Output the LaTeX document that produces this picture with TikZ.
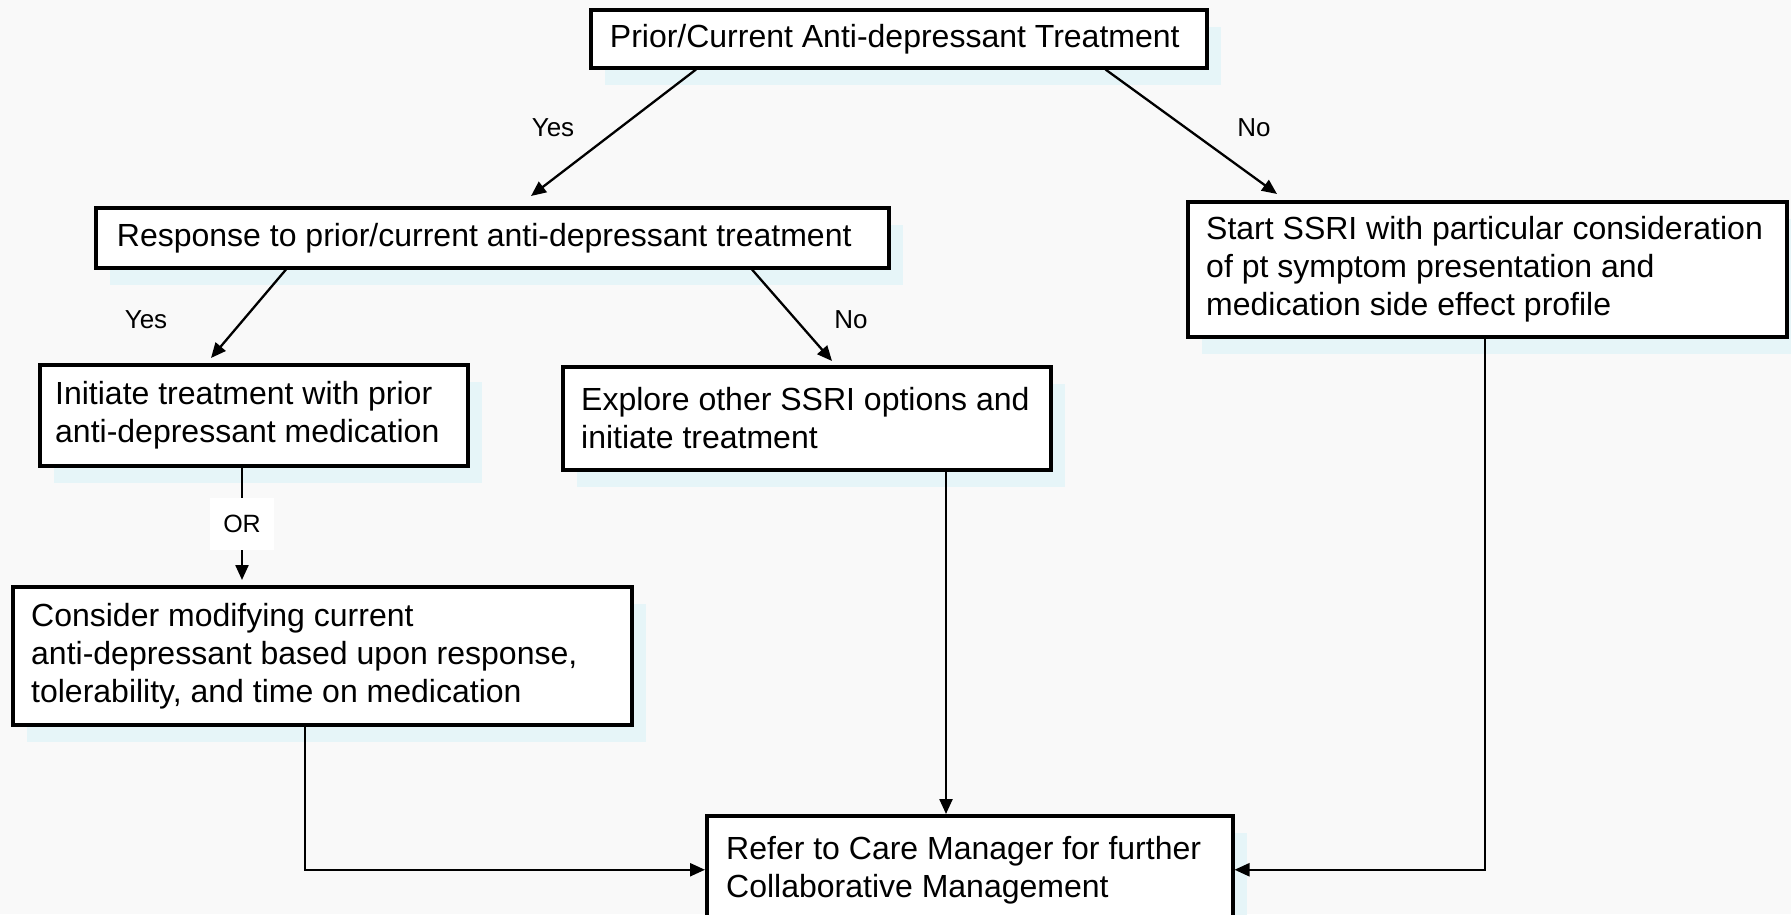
\documentclass[tikz,border=0pt]{standalone}
\usepackage{fontspec}
\setmainfont{Liberation Sans}
\usetikzlibrary{arrows.meta}
\definecolor{shadowc}{RGB}{230,245,248}
\definecolor{bgc}{RGB}{249,249,249}
\newcommand\mkbox[5]{%
  \fill[shadowc] (#2+16,#3+19) rectangle ++(#4,#5);
  \node[box, minimum width=#4pt, minimum height=#5pt] (#1) at (#2,#3) {};
}
\begin{document}
\begin{tikzpicture}[x=1pt,y=-1pt,
  box/.style={draw=black, line width=3.5pt, fill=white, rectangle, inner sep=0pt, anchor=north west},
  txt/.style={anchor=west, align=left, inner sep=0pt, font=\fontsize{32}{38}\selectfont},
  ctxt/.style={align=center, inner sep=0pt, font=\fontsize{32}{38}\selectfont},
  lbl/.style={font=\fontsize{26}{30}\selectfont, inner sep=2pt},
  orlbl/.style={font=\fontsize{25}{30}\selectfont, fill=white, minimum width=64pt, minimum height=52pt},
  conn/.style={line width=2.3pt},
  arr/.style={conn, -{Triangle[length=15pt,width=13pt]}},
]
\path[use as bounding box, clip] (0,0) rectangle (1791,914);
\fill[bgc] (0,0) rectangle (1791,914);

% boxes
\mkbox{top}{589}{8}{616}{58}
\mkbox{resp}{94}{206}{793}{60}
\mkbox{start}{1186}{200}{599}{135}
\mkbox{init}{38}{363}{428}{101}
\mkbox{expl}{561}{365}{488}{103}
\mkbox{cons}{11}{585}{619}{138}
\mkbox{refer}{705}{814}{526}{108}

% texts
\node[ctxt, xshift=-4pt] (topt) at (top.center) {Prior/Current Anti-depressant Treatment};
\node[ctxt, xshift=-8pt] (respt) at (resp.center) {Response to prior/current anti-depressant treatment};
\node[txt, xshift=20pt] (startt) at (start.west) {Start SSRI with particular consideration\\of pt symptom presentation and\\medication side effect profile};
\node[txt, xshift=17pt] (initt) at (init.west) {Initiate treatment with prior\\anti-depressant medication};
\node[txt, xshift=20pt] (explt) at (expl.west) {Explore other SSRI options and\\initiate treatment};
\node[txt, xshift=20pt] (const) at (cons.west) {Consider modifying current\\anti-depressant based upon response,\\tolerability, and time on medication};
\node[txt, xshift=21pt] (refert) at (refer.west) {Refer to Care Manager for further\\Collaborative Management};

% connector ends
\coordinate (y1e) at (531,196);
\coordinate (n1e) at (1277,194);
\coordinate (y2e) at (211,358);
\coordinate (n2e) at (832,361);
\coordinate (ore) at (242,580);
\coordinate (y1s) at ([xshift=107pt]top.south west);
\coordinate (n1s) at ([xshift=-103pt]top.south east);
\coordinate (y2s) at ([xshift=192pt]resp.south west);
\coordinate (n2s) at ([xshift=658pt]resp.south west);
\coordinate (ors) at ([xshift=204pt]init.south west);
\coordinate (cs) at ([xshift=294pt]cons.south west);
\coordinate (es) at ([xshift=385pt]expl.south west);
\coordinate (ss) at ([xshift=299pt]start.south west);

% connectors
\draw[arr] (y1s) -- (y1e);
\draw[arr] (n1s) -- (n1e);
\draw[arr] (y2s) -- (y2e);
\draw[arr] (n2s) -- (n2e);
\draw[arr] (ors) -- node[orlbl] (or) {OR} (ore);
\draw[arr] (cs) |- (refer.west);
\draw[arr] (es) -- (es |- refer.north);
\draw[arr] (ss) |- (refer.east);

% labels
\node[lbl] (yes1) at (553,128) {Yes};
\node[lbl] (no1) at (1254,128) {No};
\node[lbl] (yes2) at (146,320) {Yes};
\node[lbl] (no2) at (851,320) {No};
\end{tikzpicture}
\end{document}
